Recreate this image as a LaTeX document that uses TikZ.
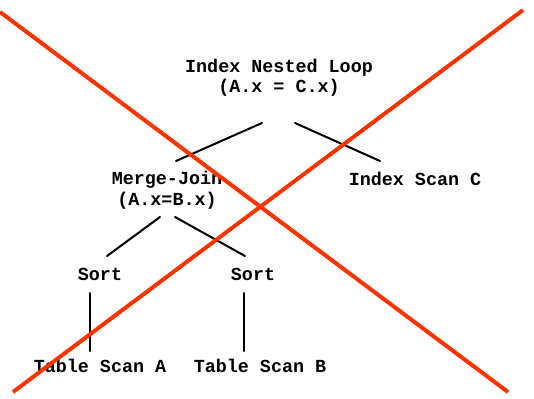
\documentclass[tikz,border=0pt]{standalone}
\usepackage{fontspec}
\setmonofont{Liberation Mono}
\begin{document}
\begin{tikzpicture}[x=1pt,y=-1pt,
  lbl/.style={font=\ttfamily\bfseries\fontsize{18.4}{20.5}\selectfont, inner sep=0pt, anchor=base, align=center},
  edge/.style={line width=2pt, line cap=round},
  cross/.style={line width=4pt, color=crossred}]
\definecolor{crossred}{RGB}{255,51,0}
\useasboundingbox (0,0) rectangle (534,398);
\fill[white] (0,0) rectangle (534,398);
% labels (two-line nodes: base = last line)
\node[lbl] (inl)  at (279,93)  {Index Nested Loop\\(A.x = C.x)};
\node[lbl] (mj)   at (167,205) {Merge-Join\\(A.x=B.x)};
\node[lbl] (isc)  at (415,185) {Index Scan C};
\node[lbl] (s1)   at (100,280) {Sort};
\node[lbl] (s2)   at (253,280) {Sort};
\node[lbl] (tsa)  at (100,372) {Table Scan A};
\node[lbl] (tsb)  at (260,372) {Table Scan B};
% connector endpoints
\coordinate (inlL) at (262,123);
\coordinate (inlR) at (295,123);
\coordinate (mjT)  at (176,161);
\coordinate (iscT) at (380,161);
\coordinate (mjL)  at (160,217);
\coordinate (mjR)  at (175,217);
\coordinate (s1T)  at (107,256);
\coordinate (s2T)  at (245,256);
\coordinate (s1B)  at (90,293);
\coordinate (s2B)  at (244,293);
\coordinate (tsaT) at (90,351);
\coordinate (tsbT) at (244,351);
\draw[edge] (inlL) -- (mjT);
\draw[edge] (inlR) -- (iscT);
\draw[edge] (mjL) -- (s1T);
\draw[edge] (mjR) -- (s2T);
\draw[edge] (s1B) -- (tsaT);
\draw[edge] (s2B) -- (tsbT);
% red cross
\coordinate (c1a) at (0,12);
\coordinate (c1b) at (508,392);
\coordinate (c2a) at (523,10);
\coordinate (c2b) at (13,392);
\draw[cross] (c1a) -- (c1b);
\draw[cross] (c2a) -- (c2b);
\end{tikzpicture}
\end{document}
